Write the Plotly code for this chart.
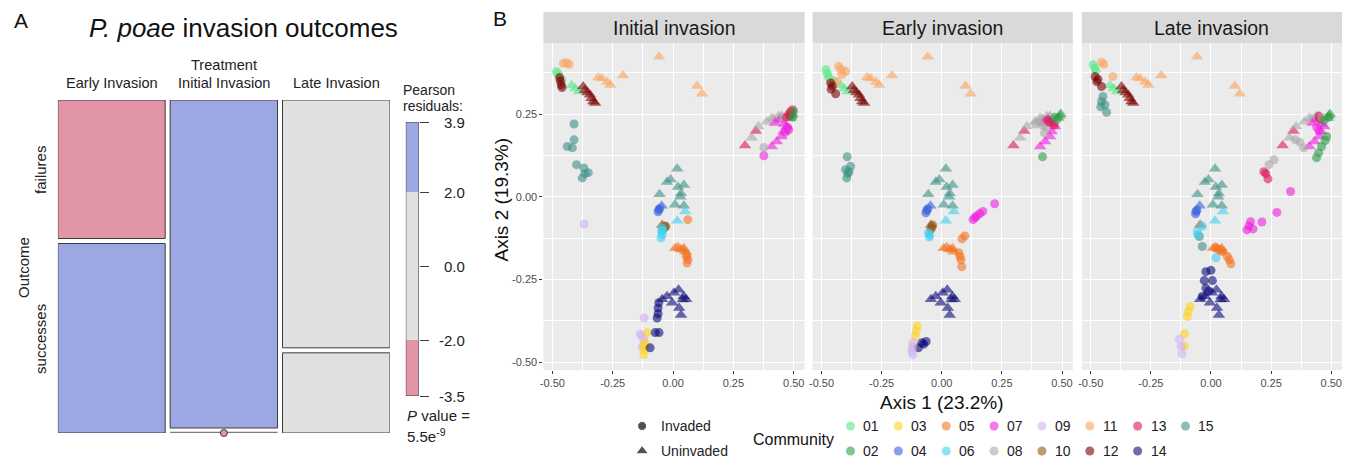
import math
import plotly.graph_objects as go

W, H = 1355, 464
FONT = "Liberation Sans, Arial, sans-serif"


def px(x):
    return x / W


def py(y):
    return 1 - y / H


# ---------------- Panel A data (mosaic) ----------------
treatments = ["Early Invasion", "Initial Invasion", "Late Invasion"]
outcomes = ["failures", "successes"]
failures = [19, 45, 34]
successes = [26, 0, 11]

# ---------------- Panel B data (ordination) ----------------
facets = ["Initial invasion", "Early invasion", "Late invasion"]
communities = ["01", "02", "03", "04", "05", "06", "07", "08",
               "09", "10", "11", "12", "13", "14", "15"]
community_colors = ["#55E887", "#2E9E48", "#FFD21F", "#3A5FE0", "#F27524",
                    "#3FD0F0", "#F020E0", "#A8A8A8", "#D4B0FA", "#93591C",
                    "#FAA35E", "#7A0000", "#E0184C", "#0A0A78", "#3E8F87"]
x_ticks = [-0.50, -0.25, 0.00, 0.25, 0.50]
y_ticks = [-0.50, -0.25, 0.00, 0.25]

# uninvaded (same in every facet)
uninv_comm = ["11"] * 8 + ["01"] * 3 + ["12"] * 7 + ["15"] * 10 + ["06"] * 2 + ["04"] \
    + ["10"] + ["05"] * 6 + ["14"] * 10 + ["13"] * 2 + ["08"] * 7 + ["07"] * 8 + ["02"] * 3
uninv_x = [-0.058, -0.207, -0.31, -0.295, -0.273, -0.26, 0.099, 0.12,
           -0.42, -0.405, -0.39,
           -0.372, -0.365, -0.355, -0.344, -0.338, -0.331, -0.323,
           0.017, -0.025, -0.01, 0.045, 0.02, -0.056, 0.033, 0.03, 0.008, 0.045,
           0.05, 0.017,
           -0.047,
           -0.045,
           0.008, 0.02, 0.03, 0.04, 0.05, 0.045,
           0.023, 0.004, -0.025, -0.045, 0.044, 0.054, 0.04, -0.004, 0.025, 0.033,
           0.298, 0.343,
           0.326, 0.354, 0.388, 0.409, 0.437, 0.45, 0.42,
           0.409, 0.43, 0.45, 0.457, 0.471, 0.422, 0.442, 0.46,
           0.49, 0.495, 0.485]
uninv_y = [0.423, 0.366, 0.36, 0.357, 0.347, 0.338, 0.335, 0.311,
           0.336, 0.327, 0.318,
           0.333, 0.322, 0.315, 0.308, 0.298, 0.288, 0.283,
           0.085, 0.045, 0.052, 0.036, 0.03, 0.008, 0.01, 0.0, -0.024, -0.027,
           -0.044, -0.072,
           -0.027,
           -0.085,
           -0.155, -0.152, -0.158, -0.16, -0.166, -0.155,
           -0.281, -0.29, -0.3, -0.309, -0.3, -0.309, -0.31, -0.32, -0.336, -0.357,
           0.155, 0.199,
           0.178, 0.212, 0.227, 0.238, 0.243, 0.245, 0.235,
           0.152, 0.167, 0.182, 0.197, 0.212, 0.223, 0.232, 0.22,
           0.245, 0.25, 0.238]

# invaded: initial invasion
initial_comm = ["01"] * 3 + ["11"] * 3 + ["12"] * 4 + ["15"] * 9 + ["09"] * 6 + ["03"] * 5 \
    + ["04"] * 3 + ["10"] * 3 + ["06"] * 5 + ["05"] * 5 + ["14"] * 7 + ["08"] * 2 \
    + ["07"] * 4 + ["13"] * 5 + ["02"] * 2
initial_x = [-0.483, -0.475, -0.46,
             -0.455, -0.44, -0.43,
             -0.47, -0.467, -0.463, -0.46,
             -0.41, -0.41, -0.438, -0.417, -0.40, -0.369, -0.351, -0.376, -0.365,
             -0.368, -0.12, -0.136, -0.13, -0.121, -0.128,
             -0.107, -0.117, -0.121, -0.121, -0.115,
             -0.059, -0.062, -0.055,
             -0.034, -0.038, -0.03,
             -0.045, -0.048, -0.045, -0.05, -0.042,
             0.061, 0.058, 0.062, 0.058, 0.055,
             -0.059, -0.062, -0.062, -0.066, -0.074, -0.058, -0.095,
             0.376, 0.46,
             0.376, 0.479, 0.475, 0.465,
             0.48, 0.488, 0.495, 0.485, 0.47,
             0.499, 0.495]
initial_y = [0.378, 0.37, 0.353,
             0.403, 0.405, 0.4,
             0.36, 0.35, 0.338, 0.33,
             0.22, 0.172, 0.152, 0.148, 0.097, 0.087, 0.073, 0.057, 0.07,
             -0.082, -0.366, -0.414, -0.42, -0.432, -0.453,
             -0.41, -0.441, -0.462, -0.477, -0.45,
             -0.039, -0.045, -0.035,
             -0.088, -0.095, -0.09,
             -0.094, -0.104, -0.114, -0.124, -0.1,
             -0.069, -0.175, -0.19, -0.2, -0.18,
             -0.32, -0.336, -0.353, -0.366, -0.41, -0.41, -0.456,
             0.149, 0.24,
             0.124, 0.202, 0.21, 0.195,
             0.25, 0.258, 0.263, 0.245, 0.24,
             0.258, 0.24]

# invaded: early invasion
early_comm = ["01"] * 4 + ["11"] * 5 + ["12"] * 4 + ["15"] * 6 + ["08"] * 5 + ["13"] * 3 \
    + ["02"] * 3 + ["07"] * 6 + ["04"] * 3 + ["10"] * 3 + ["06"] * 3 + ["05"] * 6 \
    + ["03"] * 4 + ["14"] * 4 + ["09"] * 4
early_x = [-0.482, -0.475, -0.47, -0.45,
           -0.429, -0.4, -0.415, -0.435, -0.42,
           -0.462, -0.455, -0.441, -0.46,
           -0.393, -0.40, -0.379, -0.386, -0.395, -0.39,
           0.406, 0.434, 0.427, 0.42, 0.39,
           0.44, 0.468, 0.45,
           0.419, 0.47, 0.48,
           0.22, 0.171, 0.158, 0.138, 0.13, 0.145,
           -0.062, -0.066, -0.058,
           -0.041, -0.045, -0.038,
           -0.056, -0.052, -0.05,
           0.096, 0.084, 0.071, 0.08, 0.083, 0.076,
           -0.102, -0.11, -0.119, -0.106,
           -0.065, -0.083, -0.097, -0.075,
           -0.124, -0.12, -0.119, -0.122]
early_y = [0.384, 0.372, 0.36, 0.35,
           0.394, 0.379, 0.37, 0.348, 0.385,
           0.344, 0.335, 0.311, 0.325,
           0.121, 0.082, 0.092, 0.076, 0.057, 0.07,
           0.227, 0.212, 0.193, 0.215, 0.22,
           0.232, 0.217, 0.225,
           0.121, 0.24, 0.235,
           -0.021, -0.044, -0.051, -0.063, -0.069, -0.058,
           -0.041, -0.048, -0.036,
           -0.091, -0.098, -0.085,
           -0.109, -0.121, -0.115,
           -0.118, -0.127, -0.169, -0.19, -0.211, -0.18,
           -0.39, -0.42, -0.452, -0.405,
           -0.437, -0.441, -0.456, -0.445,
           -0.467, -0.477, -0.44, -0.455]

# invaded: late invasion
late_comm = ["01"] * 3 + ["11"] * 3 + ["12"] * 4 + ["15"] * 7 + ["13"] * 5 + ["08"] * 6 \
    + ["02"] * 7 + ["07"] * 9 + ["04"] * 3 + ["06"] * 4 + ["05"] * 6 + ["14"] * 7 \
    + ["03"] * 5 + ["09"] * 3
late_x = [-0.49, -0.483, -0.478,
          -0.455, -0.445, -0.408,
          -0.482, -0.475, -0.455, -0.47,
          -0.449, -0.455, -0.441, -0.434, -0.458, -0.048, -0.036,
          0.448, 0.455, 0.22, 0.237, 0.228,
          0.241, 0.262, 0.351, 0.37, 0.386, 0.46,
          0.481, 0.475, 0.46, 0.448, 0.439, 0.47, 0.49,
          0.331, 0.274, 0.212, 0.165, 0.158, 0.15, 0.175, 0.45, 0.44,
          -0.062, -0.064, -0.058,
          -0.057, -0.036, 0.021, -0.055,
          0.021, 0.047, 0.068, 0.076, 0.083, 0.035,
          -0.021, 0.0, -0.028, 0.006, -0.021, -0.01, -0.036,
          -0.087, -0.094, -0.098, -0.11, -0.11,
          -0.131, -0.124, -0.12]
late_y = [0.399, 0.389, 0.38,
          0.406, 0.40, 0.363,
          0.363, 0.348, 0.333, 0.355,
          0.303, 0.288, 0.278, 0.255, 0.272, -0.12, -0.15,
          0.243, 0.235, 0.076, 0.054, 0.07,
          0.097, 0.112, 0.172, 0.165, 0.148, 0.24,
          0.182, 0.17, 0.152, 0.133, 0.118, 0.23, 0.24,
          0.016, -0.047, -0.076, -0.075, -0.088, -0.1, -0.097, 0.2, 0.21,
          -0.044, -0.051, -0.04,
          -0.105, -0.088, -0.184, -0.115,
          -0.154, -0.165, -0.18, -0.19, -0.202, -0.16,
          -0.226, -0.222, -0.253, -0.253, -0.276, -0.285, -0.301,
          -0.331, -0.347, -0.362, -0.414, -0.45,
          -0.43, -0.452, -0.474]

# ---------------- styling constants ----------------
BLUE, PINK, GREY = "#9DA8E3", "#E295A6", "#E0E0E0"
EDGE = "#3C3C3C"
ALPHA = 0.6

fig = go.Figure()
annotations = []
shapes = []


def ann(text, x, y, size, color="#222222", xanchor="center", angle=0):
    annotations.append(dict(text=text, x=px(x), y=py(y), xref="paper", yref="paper",
                            xanchor=xanchor, yanchor="middle", textangle=angle,
                            showarrow=False, font=dict(size=size, color=color)))


# ================= Panel A: mosaic =================
N = sum(failures) + sum(successes)
row_tot = [sum(failures), sum(successes)]
col_tot = [f + s for f, s in zip(failures, successes)]


def resid(obs, r, c):
    e = row_tot[r] * col_tot[c] / N
    return (obs - e) / math.sqrt(e)


def rcolor(r):
    if r > 2:
        return BLUE
    if r < -2:
        return PINK
    return GREY


res = [[resid(failures[c], 0, c), resid(successes[c], 1, c)] for c in range(3)]
chi2 = sum(v * v for pair in res for v in pair)
pval = math.exp(-chi2 / 2)  # df = 2
rmax = max(v for pair in res for v in pair)
rmin = min(v for pair in res for v in pair)

gap = 5 / 333
avail = 1 - gap * (len(treatments) - 1)
x0 = 0.0
for c in range(len(treatments)):
    w = avail * col_tot[c] / N
    pf = failures[c] / col_tot[c]
    if successes[c] == 0:
        cells = [(gap, 1.0, res[c][0])]
        zero_y = 0.0
    elif failures[c] == 0:
        cells = [(0.0, 1 - gap, res[c][1])]
        zero_y = 1.0
    else:
        hf = (1 - gap) * pf
        cells = [(1 - hf, 1.0, res[c][0]), (0.0, (1 - gap) * (1 - pf), res[c][1])]
        zero_y = None
    for (ya, yb, r) in cells:
        fig.add_trace(go.Scatter(
            x=[x0, x0 + w, x0 + w, x0, x0], y=[ya, ya, yb, yb, ya],
            mode="lines", fill="toself", fillcolor=rcolor(r), cliponaxis=False,
            line=dict(color=EDGE, width=1), xaxis="x4", yaxis="y4",
            hoverinfo="skip", showlegend=False))
    if zero_y is not None:
        zr = res[c][1] if successes[c] == 0 else res[c][0]
        fig.add_trace(go.Scatter(
            x=[x0, x0 + w], y=[zero_y, zero_y], mode="lines", cliponaxis=False,
            line=dict(color="#7A7A7A", width=2.5), xaxis="x4", yaxis="y4",
            hoverinfo="skip", showlegend=False))
        fig.add_trace(go.Scatter(
            x=[x0 + w / 2], y=[zero_y], mode="markers", cliponaxis=False,
            marker=dict(size=7, color=rcolor(zr), line=dict(color=EDGE, width=1)),
            xaxis="x4", yaxis="y4", hoverinfo="skip", showlegend=False))
    col_center_px = 54 + (x0 + w / 2) * 333
    ann(treatments[c], col_center_px, 83, 14.6)
    if c == 1:
        ann("Treatment", col_center_px, 65, 14.6)
    x0 += w + gap

# residual colour bar
bands = [(2.0, rmax, BLUE), (-2.0, 2.0, GREY), (rmin, -2.0, PINK)]
for lo, hi, col in bands:
    fig.add_trace(go.Scatter(x=[0, 1, 1, 0, 0], y=[lo, lo, hi, hi, lo], mode="lines",
                             fill="toself", fillcolor=col, line=dict(width=0),
                             xaxis="x5", yaxis="y5", hoverinfo="skip", showlegend=False))
fig.add_trace(go.Scatter(x=[0, 1, 1, 0, 0], y=[rmin, rmin, rmax, rmax, rmin], mode="lines",
                         line=dict(color=EDGE, width=1), xaxis="x5", yaxis="y5",
                         cliponaxis=False, hoverinfo="skip", showlegend=False))
bar_ticks = [rmax, 2.0, 0.0, -2.0, rmin]
for t in bar_ticks:
    ypx = 122 + (rmax - t) / (rmax - rmin) * 274
    ann(f"{t:.1f}", 464, ypx, 15, xanchor="right")

exp10 = math.floor(math.log10(pval))
mant = pval / 10 ** exp10
ann("Pearson", 398, 90, 14, xanchor="left")
ann("residuals:", 398, 106, 14, xanchor="left")
ann("<i>P</i> value =", 402, 415, 15, xanchor="left")
ann(f"{mant:.1f}e<sup>{exp10}</sup>", 402, 435, 15, xanchor="left")

ann("<i>P. poae</i> invasion outcomes", 240, 28, 26, color="#111111")
ann("A", 17, 20, 21, color="#111111")
ann("B", 497, 18, 21, color="#111111")
ann("Outcome", 19, 267, 15, angle=-90)
ann(outcomes[0], 36, 170, 15, angle=-90)
ann(outcomes[1], 36, 339, 15, angle=-90)

# ================= Panel B: ordination facets =================
cmap = dict(zip(communities, community_colors))
facet_data = [(initial_comm, initial_x, initial_y),
              (early_comm, early_x, early_y),
              (late_comm, late_x, late_y)]
facet_px = [(541, 803), (811, 1072), (1081, 1342)]
XR = [-0.537, 0.545]
YR = [-0.523, 0.4645]

for i, (comm, xs, ys) in enumerate(facet_data):
    ax = "" if i == 0 else str(i + 1)
    fig.add_trace(go.Scatter(
        x=uninv_x, y=uninv_y, mode="markers",
        marker=dict(symbol="triangle-up", size=11, color=[cmap[c] for c in uninv_comm],
                    opacity=ALPHA, line=dict(width=0)),
        xaxis="x" + ax, yaxis="y" + ax, showlegend=False, hoverinfo="skip"))
    fig.add_trace(go.Scatter(
        x=xs, y=ys, mode="markers",
        marker=dict(symbol="circle", size=9, color=[cmap[c] for c in comm],
                    opacity=ALPHA, line=dict(width=0)),
        xaxis="x" + ax, yaxis="y" + ax, showlegend=False, hoverinfo="skip"))
    l, r = facet_px[i]
    shapes.append(dict(type="rect", xref="x" + ax + " domain", yref="y" + ax + " domain",
                       x0=0, x1=1, y0=0, y1=1, fillcolor="#EBEBEB", line=dict(width=0),
                       layer="below"))
    shapes.append(dict(type="rect", xref="paper", yref="paper", x0=px(l), x1=px(r),
                       y0=py(43), y1=py(12), fillcolor="#D9D9D9", line=dict(width=0)))
    ann(facets[i], (l + r) / 2, 28, 19.5, color="#1A1A1A")

ann("Axis 2 (19.3%)", 498, 200, 19, color="#111111", angle=-90)
ann("Axis 1 (23.2%)", 941, 402, 19, color="#111111")

# ---------------- legend (drawn on its own small axis) ----------------
LX0, LX1, LY0, LY1 = 600, 1260, 410, 464
leg_rows = [426, 451]
fig.add_trace(go.Scatter(x=[640, 640], y=leg_rows, mode="markers",
                         marker=dict(symbol=["circle", "triangle-up"], size=[9, 11],
                                     color="#333333", opacity=0.85),
                         xaxis="x6", yaxis="y6", showlegend=False, hoverinfo="skip"))
for k, lab in enumerate(["Invaded", "Uninvaded"]):
    ann(lab, 657, leg_rows[k], 14, xanchor="left")
ann("Community", 792, 439, 16, color="#111111")
lx, ly = [], []
for j, c in enumerate(communities):
    cx = 849 + 48 * (j // 2)
    cy = leg_rows[j % 2]
    lx.append(cx)
    ly.append(cy)
    ann(c, cx + 11, cy, 14, xanchor="left")
fig.add_trace(go.Scatter(x=lx, y=ly, mode="markers",
                         marker=dict(size=9, color=community_colors, opacity=ALPHA),
                         xaxis="x6", yaxis="y6", showlegend=False, hoverinfo="skip"))

# ---------------- axes ----------------
common_x = dict(range=XR, tickvals=x_ticks, ticktext=[f"{v:.2f}" for v in x_ticks],
                showgrid=True, gridcolor="white", gridwidth=1.2, zeroline=False,
                ticks="outside", ticklen=3, tickcolor="#333333", tickwidth=1,
                tickfont=dict(size=11, color="#4D4D4D"), showline=False,
                minor=dict(tickvals=[-0.375, -0.125, 0.125, 0.375], showgrid=True,
                           gridcolor="white", gridwidth=0.6, ticks=""))
common_y = dict(range=YR, tickvals=y_ticks, ticktext=[f"{v:.2f}" for v in y_ticks],
                showgrid=True, gridcolor="white", gridwidth=1.2, zeroline=False,
                ticks="outside", ticklen=3, tickcolor="#333333", tickwidth=1,
                tickfont=dict(size=11, color="#4D4D4D"), showline=False,
                minor=dict(tickvals=[-0.375, -0.125, 0.125, 0.375], showgrid=True,
                           gridcolor="white", gridwidth=0.6, ticks=""))

layout_axes = {}
for i, (l, r) in enumerate(facet_px):
    ax = "" if i == 0 else str(i + 1)
    layout_axes["xaxis" + ax] = dict(common_x, domain=[px(l), px(r)], anchor="y" + ax)
    yd = dict(common_y, domain=[py(370), py(43)], anchor="x" + ax)
    if i > 0:
        yd.update(showticklabels=False, ticks="")
    layout_axes["yaxis" + ax] = yd

layout_axes["xaxis4"] = dict(domain=[px(54), px(387)], range=[0, 1], visible=False,
                             anchor="y4", fixedrange=True)
layout_axes["yaxis4"] = dict(domain=[py(433), py(100)], range=[0, 1], visible=False,
                             anchor="x4", fixedrange=True)
layout_axes["xaxis5"] = dict(domain=[px(403), px(416)], range=[0, 1], visible=False,
                             anchor="y5")
layout_axes["yaxis5"] = dict(domain=[py(396), py(122)], range=[rmin, rmax], anchor="x5",
                             side="right", tickvals=bar_ticks, showticklabels=False,
                             ticks="outside", ticklen=9, tickcolor=EDGE, tickwidth=1,
                             showgrid=False, zeroline=False, showline=False)
layout_axes["xaxis6"] = dict(domain=[px(LX0), px(LX1)], range=[LX0, LX1], visible=False,
                             anchor="y6")
layout_axes["yaxis6"] = dict(domain=[py(LY1), py(LY0)], range=[LY1, LY0], visible=False,
                             anchor="x6")

fig.update_layout(
    width=W, height=H, margin=dict(l=0, r=0, t=0, b=0),
    paper_bgcolor="white", plot_bgcolor="rgba(0,0,0,0)",
    font=dict(family=FONT, color="#222222"),
    annotations=annotations, shapes=shapes, showlegend=False,
    **layout_axes)

fig.write_html("out.html", config={"displayModeBar": False},
               post_script="document.body.style.margin='0px';document.body.style.overflow='hidden';")
